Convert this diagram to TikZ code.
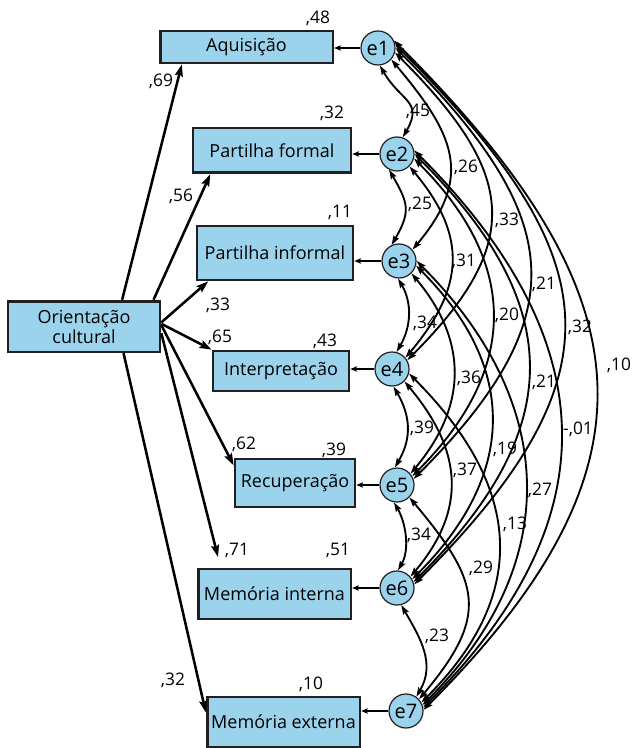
\documentclass[tikz,border=0pt]{standalone}
\usepackage{fontspec}
\setmainfont{Open Sans}
\usetikzlibrary{arrows.meta}
\definecolor{boxfill}{RGB}{155,211,237}
\definecolor{ink}{RGB}{35,31,32}
\begin{document}
\begin{tikzpicture}[x=0.75pt,y=0.75pt,
  var/.style={draw=ink, line width=2pt, fill=boxfill, inner sep=0pt,
    align=center, font=\fontsize{13.5}{15}\selectfont},
  err/.style={circle, draw=ink, line width=0.9pt, fill=boxfill,
    minimum size=25.5pt, inner sep=0pt, font=\fontsize{15}{16}\selectfont},
  regr/.style={line width=1.9pt, -{Stealth[length=9pt,width=6pt,inset=1.5pt]}},
  erra/.style={line width=1.2pt, -{Stealth[length=5pt,width=4pt,inset=1pt]}},
  cov/.style={line width=1.4pt,
    {Stealth[length=7pt,width=4.5pt,inset=1pt]}-{Stealth[length=7pt,width=4.5pt,inset=1pt]}},
  num/.style={inner sep=0pt, text height=9pt, text depth=0pt,
    font=\fontsize{13}{14}\selectfont}
]
\useasboundingbox (0,0) rectangle (632,-748);

% observed variables
\node[var, minimum width=129.5pt, minimum height=24pt]  (aq) at (246.5,-47)  {Aquisição};
\node[var, minimum width=118.5pt, minimum height=33.5pt] (pf) at (272,-150.5) {Partilha formal};
\node[var, minimum width=117pt, minimum height=40.5pt]  (pi) at (275,-253)   {Partilha informal};
\node[var, minimum width=114pt, minimum height=38pt]    (oc) at (84,-326.5)  {Orientação\\cultural};
\node[var, minimum width=102pt, minimum height=30pt]    (ip) at (281,-371)   {Interpretação};
\node[var, minimum width=90pt, minimum height=36pt]     (rc) at (295,-483)   {Recuperação};
\node[var, minimum width=114.5pt, minimum height=37.5pt] (mi) at (274.5,-594) {Memória interna};
\node[var, minimum width=114.5pt, minimum height=37.5pt] (me) at (283.5,-722) {Memória externa};

% error terms
\node[err] (e1) at (378,-48)  {e1};
\node[err] (e2) at (397,-154) {e2};
\node[err] (e3) at (399,-261) {e3};
\node[err] (e4) at (392,-369) {e4};
\node[err] (e5) at (397,-485) {e5};
\node[err] (e6) at (397,-588) {e6};
\node[err] (e7) at (406,-711) {e7};

% regression paths from the latent factor
\coordinate (mitip) at (218,-557);
\draw[regr] (oc.35)  -- (aq.195);
\draw[regr] (oc.21)  -- (pf.201);
\draw[regr] (oc.3)   -- (pi.203);
\draw[regr] (oc.2)   -- (ip.north west);
\draw[regr] (oc.1)   -- (rc.164);
\draw[regr] (oc.-5)  -- (mitip);
\draw[regr] (oc.-34) -- (me.173);

% errors to their indicators
\foreach \e/\v in {e1/aq,e2/pf,e3/pi,e4/ip,e5/rc,e6/mi,e7/me}
  \draw[erra] (\e.west) -- (\e.west -| \v.east);

% covariances between neighbouring errors
\draw[cov] (e1.-84)  to[out=-60,in=60,distance=31.5pt] (e2.71);
\draw[cov] (e2.-117) to[out=-60,in=60,distance=29pt]   (e3.115);
\draw[cov] (e3.-93)  to[out=-60,in=60,distance=21.6pt] (e4.75);
\draw[cov] (e4.-85)  to[out=-60,in=60,distance=25.6pt] (e5.97);
\draw[cov] (e5.-100) to[out=-60,in=60,distance=18pt]   (e6.87);
\draw[cov] (e6.-76)  to[out=-60,in=60,distance=28.8pt] (e7.54);
% one apart
\draw[cov] (e1.-41) to[out=-50,in=50,distance=72.5pt] (e3.40);
\draw[cov] (e2.-45) to[out=-50,in=50,distance=68.5pt] (e4.40);
\draw[cov] (e3.-45) to[out=-50,in=50,distance=66.2pt] (e5.40);
\draw[cov] (e4.-45) to[out=-50,in=50,distance=66.9pt] (e6.40);
\draw[cov] (e5.-45) to[out=-50,in=50,distance=82.7pt] (e7.42);
% two apart
\draw[cov] (e1.-15) to[out=-45,in=45,distance=126.5pt] (e4.30);
\draw[cov] (e2.-15) to[out=-45,in=45,distance=112.4pt] (e5.30);
\draw[cov] (e3.-15) to[out=-45,in=45,distance=109.5pt] (e6.30);
\draw[cov] (e4.-15) to[out=-45,in=45,distance=117.8pt] (e7.29);
% three apart
\draw[cov] (e1.0) to[out=-45,in=45,distance=176.9pt] (e5.20);
\draw[cov] (e2.0) to[out=-45,in=45,distance=162pt]   (e6.20);
\draw[cov] (e3.0) to[out=-45,in=45,distance=150pt]   (e7.20);
% four and five apart
\draw[cov] (e1.12) to[out=-45,in=45,distance=224.8pt] (e6.12);
\draw[cov] (e2.12) to[out=-45,in=45,distance=200.7pt] (e7.12);
\draw[cov] (e1.25) to[out=-45,in=45,distance=264.2pt] (e7.4);

% squared multiple correlations
\node[num] (r1) at (318,-18)  {,48};
\node[num] (r2) at (332,-113) {,32};
\node[num] (r3) at (340,-212) {,11};
\node[num] (r4) at (325,-340) {,43};
\node[num] (r5) at (334,-449) {,39};
\node[num] (r6) at (338,-549) {,51};
\node[num] (r7) at (311,-683) {,10};

% standardized loadings
\node[num] (l1) at (161,-81)  {,69};
\node[num] (l2) at (181,-196) {,56};
\node[num] (l3) at (218,-304) {,33};
\node[num] (l4) at (220,-336) {,65};
\node[num] (l5) at (244,-443) {,62};
\node[num] (l6) at (237,-549) {,71};
\node[num] (l7) at (173,-679) {,32};

% error correlations
\node[num] (c12) at (418,-111) {,45};
\node[num] (c13) at (466,-167) {,26};
\node[num] (c23) at (420,-204) {,25};
\node[num] (c14) at (507,-220) {,33};
\node[num] (c24) at (464,-261) {,31};
\node[num] (c15) at (544,-283) {,21};
\node[num] (c34) at (425,-322) {,34};
\node[num] (c25) at (507,-314) {,20};
\node[num] (c16) at (580,-326) {,32};
\node[num] (c17) at (619,-364) {,10};
\node[num] (c35) at (469,-377) {,36};
\node[num] (c26) at (544,-381) {,21};
\node[num] (c45) at (422,-427) {,39};
\node[num] (c27) at (578,-428) {-,01};
\node[num] (c36) at (505,-448) {,19};
\node[num] (c46) at (465,-469) {,37};
\node[num] (c37) at (540,-489) {,27};
\node[num] (c56) at (419,-534) {,34};
\node[num] (c47) at (515,-523) {,13};
\node[num] (c57) at (481,-567) {,29};
\node[num] (c67) at (437,-635) {,23};
\end{tikzpicture}
\end{document}
